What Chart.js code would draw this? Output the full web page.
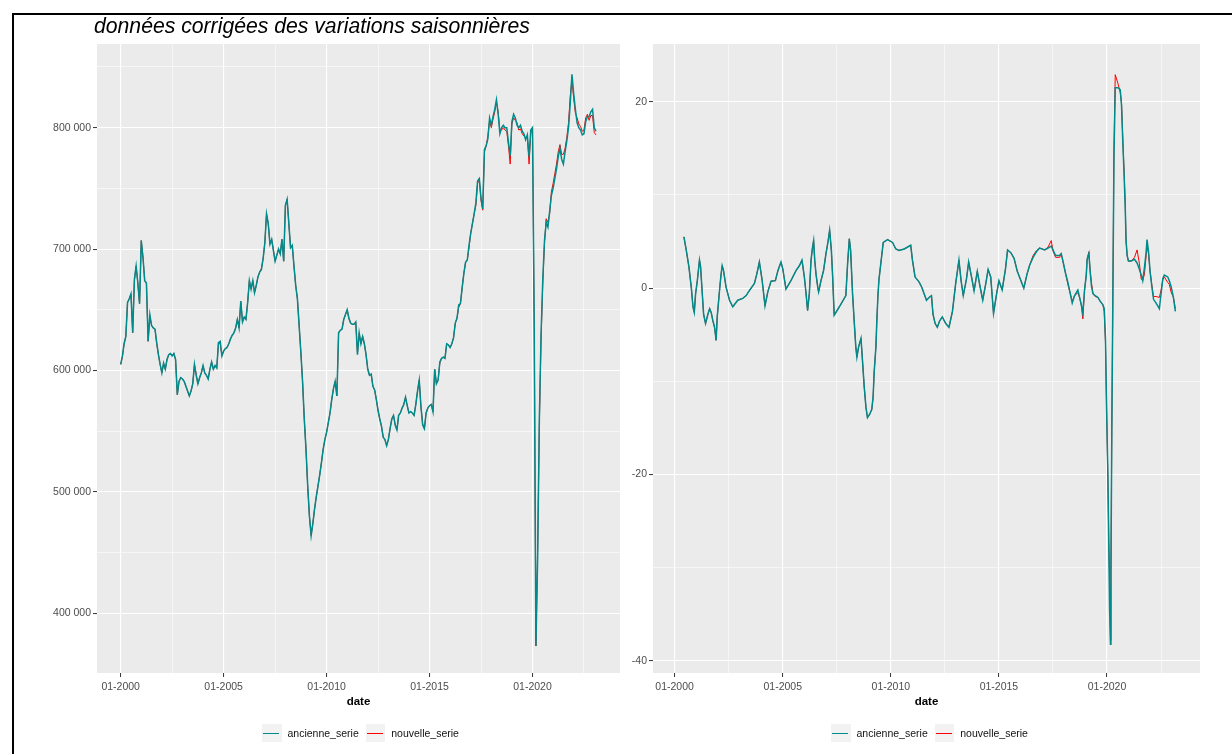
<!DOCTYPE html>
<html><head><meta charset="utf-8">
<script src="https://cdn.jsdelivr.net/npm/chart.js@4.4.1/dist/chart.umd.min.js"></script>
<style>
html,body{margin:0;padding:0;background:#fff;width:1232px;height:754px;overflow:hidden;font-family:"Liberation Sans",Arial,sans-serif;}
#frame{position:absolute;left:12px;top:13px;width:1240px;height:760px;border-top:2px solid #000;border-left:2px solid #000;box-sizing:border-box;}
#title{position:absolute;left:94px;top:14px;font-style:italic;font-size:21.2px;line-height:24px;color:#000;white-space:nowrap;}
canvas{position:absolute;top:0;}
#c1{left:0;} #c2{left:620px;}
.legend{position:absolute;top:724px;display:flex;align-items:center;font-size:10.5px;color:#111;}
.item{display:flex;align-items:center;margin-right:7px;}
.key{width:19.5px;height:18px;background:#F2F2F2;position:relative;margin-right:6px;}
.key i{position:absolute;left:1px;width:16px;top:8.5px;height:1.5px;}
</style></head>
<body>
<div id="frame"></div>
<canvas id="c1" width="632" height="754"></canvas>
<canvas id="c2" width="612" height="754"></canvas>
<div id="title">données corrigées des variations saisonnières</div>
<div class="legend" style="left:262px"><div class="item"><span class="key"><i style="background:#008B8B"></i></span>ancienne_serie</div><div class="item"><span class="key"><i style="background:#FF0000"></i></span>nouvelle_serie</div></div>
<div class="legend" style="left:831px"><div class="item"><span class="key"><i style="background:#008B8B"></i></span>ancienne_serie</div><div class="item"><span class="key"><i style="background:#FF0000"></i></span>nouvelle_serie</div></div>
<script>
// ---------- DATA ----------
const seriesNames = ['ancienne_serie', 'nouvelle_serie'];
const firstMonthYear = 2000; // monthly series, January 2000 onward (left panel, in thousands)
const ancienneNiveau = [
605,612,622,628,656,659,663,631,675,686,672,655,
707,693,674,672,624,646,637,635,634,623,613,605,
598,606,601,609,613,614,612,614,609,580,591,594,
593,591,587,583,579,583,589,605,596,589,594,598,
604,598,596,593,601,607,601,604,602,623,624,612,
616,618,619,622,626,629,631,635,642,635,657,640,
644,642,656,674,667,674,664,670,677,681,683,692,
705,729,721,704,708,699,690,695,700,696,708,690,
736,741,721,701,703,686,670,659,637,615,591,560,
535,505,480,464,474,486,496,505,514,524,535,543,
549,557,565,576,585,591,579,631,633,634,642,646,
650,643,639,638,638,640,613,631,622,628,622,613,
601,596,597,587,584,576,567,560,554,545,543,538,
543,552,560,563,555,551,563,565,569,572,578,571,
565,566,565,563,572,583,592,570,555,552,565,569,
571,572,566,601,589,592,607,610,611,610,622,621,
619,622,627,639,643,654,655,668,680,689,691,703,
713,721,729,738,756,758,742,733,782,785,791,808,
802,809,815,823,811,795,800,802,800,800,788,777,
805,811,808,802,800,802,797,795,790,794,776,798,
800,639,373,446,560,630,675,707,722,718,731,744,
750,758,766,776,783,774,770,780,789,800,820,844,
828,815,804,800,798,794,795,805,809,809,813,815,
800,797];
const nouvelleNiveau = [
605,611,622,628,656,659,663,631,674,686,672,655,
707,693,674,672,624,645,637,635,634,622,613,605,
598,606,601,609,613,614,612,614,609,580,591,594,
593,591,587,583,579,583,589,605,597,589,594,598,
604,598,596,593,601,607,601,604,602,623,622,612,
616,618,619,622,626,629,631,635,642,635,657,640,
644,642,656,674,667,674,664,670,677,681,684,692,
705,729,721,704,708,699,690,695,700,696,708,690,
736,741,721,701,703,686,670,659,637,615,591,560,
535,504,480,464,474,486,496,505,514,524,535,543,
549,557,565,576,585,591,579,631,633,634,642,646,
650,643,639,638,638,640,614,631,622,628,622,613,
601,596,597,587,584,576,567,560,554,545,543,538,
543,552,560,563,555,551,563,565,569,572,578,571,
565,566,565,563,572,583,592,570,556,552,565,569,
571,572,566,601,589,592,606,610,611,610,622,621,
619,622,627,639,643,652,655,668,680,689,691,701,
713,721,729,736,754,758,740,732,780,785,793,806,
800,807,813,821,813,797,798,800,798,797,785,770,
803,808,806,804,798,799,795,793,792,792,770,795,
800,637,373,453,556,626,672,705,725,722,729,747,
754,762,770,780,786,778,778,783,792,804,826,840,
824,812,808,803,801,797,798,808,811,806,810,810,
796,794];

// right panel: variation (%), dates as decimal years
const variationDates = [
2000.43,2000.54,2000.66,2000.77,2000.85,2000.91,2000.97,2001.05,2001.15,2001.2,2001.28,2001.34,2001.43,2001.54,2001.62,2001.69,2001.77,2001.85,2001.92,2001.97,
2002.03,2002.09,2002.15,2002.2,2002.26,2002.38,2002.54,2002.69,2002.92,2003.15,2003.31,2003.46,2003.69,2003.8,2003.92,2004.05,2004.18,2004.31,2004.46,2004.66,
2004.78,2004.92,2005.0,2005.15,2005.38,2005.62,2005.77,2005.89,2006.0,2006.08,2006.15,2006.23,2006.31,2006.38,2006.43,2006.48,2006.54,2006.62,2006.66,2006.77,
2006.89,2007.0,2007.09,2007.17,2007.25,2007.31,2007.38,2007.62,2007.92,2008.0,2008.08,2008.14,2008.23,2008.31,2008.38,2008.43,2008.51,2008.62,2008.69,2008.77,
2008.85,2008.92,2009.03,2009.12,2009.18,2009.23,2009.31,2009.35,2009.4,2009.45,2009.51,2009.57,2009.65,2009.85,2010.08,2010.23,2010.38,2010.62,2010.92,2011.0,
2011.12,2011.31,2011.43,2011.54,2011.65,2011.77,2011.88,2011.95,2012.05,2012.15,2012.26,2012.38,2012.54,2012.69,2012.85,2013.0,2013.15,2013.25,2013.35,2013.5,
2013.6,2013.75,2013.85,2014.0,2014.1,2014.25,2014.4,2014.5,2014.62,2014.75,2014.9,2015.0,2015.15,2015.3,2015.4,2015.55,2015.7,2015.85,2016.0,2016.15,
2016.3,2016.42,2016.58,2016.73,2016.88,2017.12,2017.27,2017.42,2017.5,2017.62,2017.81,2017.88,2017.96,2018.08,2018.19,2018.3,2018.39,2018.5,2018.65,2018.73,
2018.81,2018.88,2018.96,2019.04,2019.08,2019.16,2019.22,2019.28,2019.35,2019.45,2019.58,2019.68,2019.81,2019.87,2019.93,2019.98,2020.04,2020.08,2020.12,2020.16,
2020.18,2020.22,2020.27,2020.32,2020.38,2020.5,2020.61,2020.67,2020.73,2020.79,2020.84,2020.88,2020.93,2020.99,2021.12,2021.27,2021.39,2021.5,2021.58,2021.65,
2021.73,2021.81,2021.85,2021.92,2021.99,2022.07,2022.15,2022.27,2022.42,2022.5,2022.58,2022.65,2022.81,2022.88,2022.96,2023.07,2023.16];
const ancienneVariation = [
5.5,4.05,2.3,0.1,-2.0,-2.6,-0.6,0.8,3.0,2.3,-0.6,-2.8,-3.8,-2.8,-2.2,-2.6,-3.5,-4.2,-5.6,-3.1,
-1.5,0.1,1.5,2.4,1.9,0.1,-1.3,-2.0,-1.3,-1.1,-0.8,-0.25,0.5,1.5,2.8,0.8,-1.9,-0.4,0.75,0.8,
1.9,2.8,2.1,-0.1,0.8,1.9,2.4,3.0,1.2,-0.6,-2.4,-0.6,3.0,4.4,5.1,3.0,1.5,0.1,-0.4,0.8,
1.9,3.7,4.9,6.2,4.05,1.2,-2.9,-2.0,-0.8,2.6,5.3,4.05,-0.6,-3.7,-6.3,-7.4,-6.3,-5.4,-7.8,-10.6,
-12.8,-13.9,-13.5,-13.0,-11.7,-9.0,-6.3,-3.7,-1.0,0.9,2.1,3.3,4.9,5.2,4.9,4.2,4.05,4.2,4.6,3.0,
1.2,0.65,0.1,-0.6,-1.3,-1.0,-0.8,-2.8,-3.8,-4.2,-3.5,-3.1,-3.8,-4.2,-2.5,0.5,3.0,0.8,-0.8,1.0,
2.8,1.0,-0.3,1.8,0.5,-1.3,0.6,2.0,1.2,-2.7,-0.5,0.8,-0.2,2.0,4.1,3.8,3.2,1.8,0.9,0.0,
1.5,2.45,3.3,3.9,4.3,4.1,4.3,4.5,4.1,3.5,3.5,3.7,2.9,1.6,0.6,-0.6,-1.6,-0.8,-0.2,-1.0,
-1.8,-2.7,-0.2,1.4,3.1,3.7,1.8,0.2,-0.6,-0.8,-1.0,-1.4,-1.8,-2.2,-5.5,-12.9,-20.2,-27.4,-34.6,-38.2,
-30.7,-15.7,-0.8,14.1,21.5,21.5,21.3,19.6,15.7,12.1,8.8,5.1,3.5,2.9,2.9,3.1,2.7,2.0,1.4,0.8,
2.2,3.9,5.2,3.9,1.8,0.2,-1.2,-1.6,-2.2,-0.6,1.0,1.4,1.2,0.8,0.2,-1.0,-2.5];
const nouvelleVariation = [
5.5,4.05,2.3,0.1,-2.0,-2.6,-0.6,0.8,3.0,2.3,-0.6,-2.8,-3.8,-2.8,-2.2,-2.6,-3.5,-4.3,-5.6,-3.1,
-1.5,0.1,1.5,2.4,1.9,0.1,-1.3,-2.0,-1.3,-1.1,-0.8,-0.25,0.5,1.5,2.8,0.8,-1.9,-0.4,0.75,0.8,
1.9,2.8,2.1,-0.1,0.8,1.9,2.4,3.0,1.2,-0.6,-2.4,-0.6,3.0,4.4,5.1,3.0,1.5,0.1,-0.4,0.8,
1.9,3.7,4.9,6.2,4.05,1.2,-2.9,-2.0,-0.8,2.6,5.3,4.05,-0.6,-3.7,-6.3,-7.4,-6.3,-5.4,-7.8,-10.6,
-12.8,-13.9,-13.5,-13.0,-11.7,-9.0,-6.3,-3.7,-1.0,0.9,2.1,3.3,4.9,5.2,4.9,4.2,4.05,4.2,4.6,3.0,
1.2,0.65,0.1,-0.6,-1.3,-1.0,-0.8,-2.8,-3.8,-4.2,-3.5,-3.1,-3.8,-4.2,-2.5,0.5,3.0,0.8,-0.8,1.0,
2.8,1.0,-0.3,1.8,0.5,-1.3,0.6,2.0,1.2,-2.7,-0.5,0.8,-0.2,2.0,4.1,3.8,3.2,1.8,0.9,0.0,
1.5,2.45,3.5,4.0,4.3,4.1,4.4,5.1,4.0,3.3,3.3,3.7,2.9,1.6,0.4,-0.6,-1.4,-0.8,-0.5,-1.0,
-1.8,-3.3,-0.2,1.4,3.1,3.9,1.8,0.6,-0.6,-0.9,-1.0,-1.4,-1.8,-2.5,-6.0,-13.2,-20.5,-27.0,-31.0,-37.8,
-31.0,-15.2,-0.8,14.6,22.9,22.0,21.0,19.9,15.9,12.5,9.2,5.1,3.5,2.9,2.9,3.3,4.1,2.6,1.0,0.8,
1.5,3.5,4.5,3.7,1.8,0.4,-0.9,-0.9,-1.0,-0.2,0.9,1.2,0.6,0.4,-0.4,-1.0,-2.2];

const xTickYears = [2000,2002.5,2005,2007.5,2010,2012.5,2015,2017.5,2020,2022.5];
const yTicksNiveau = [400,450,500,550,600,650,700,750,800,850];
const yTicksVariation = [-40,-30,-20,-10,0,10,20];

// ---------- CHART HELPERS ----------
const FONT = '"Liberation Sans", Arial, sans-serif';
const panelBg = { id:'panelBg', beforeDraw(chart){ const {ctx, chartArea:a} = chart; ctx.save(); ctx.fillStyle='#EBEBEB'; ctx.fillRect(a.left, a.top, a.right-a.left, a.bottom-a.top); ctx.restore(); } };
const isMajorX = v => Math.abs(v % 5) < 1e-9;

function monthPoints(vals){ return vals.map((v,i)=>({x: firstMonthYear + i/12, y: v})); }
function datePoints(dates, vals){ return dates.map((d,i)=>({x: d, y: vals[i]})); }

function makeChart(id, cfg){
  const tickFont = {family: FONT, size: 10.5};
  return new Chart(document.getElementById(id), {
    type:'line',
    data:{ datasets:[
      {label: seriesNames[0], data: cfg.a, borderColor:'#008B8B', borderWidth:1.5, pointRadius:0, tension:0, fill:false},
      {label: seriesNames[1], data: cfg.n, borderColor:'#FF0000', borderWidth:1.0, pointRadius:0, tension:0, fill:false}
    ]},
    options:{
      responsive:false, animation:false, devicePixelRatio:1,
      layout:{ padding: cfg.padding },
      plugins:{ legend:{display:false}, tooltip:{enabled:false}, title:{display:false} },
      scales:{
        x:{
          type:'linear', min: cfg.xmin, max: cfg.xmax, bounds:'data',
          afterBuildTicks: s => { s.ticks = xTickYears.map(v=>({value:v})); },
          afterFit: s => { s.height = 36; },
          border:{display:false},
          grid:{ color:'#FFFFFF', lineWidth: c => (c.tick && isMajorX(c.tick.value)) ? 1.1 : 0.55,
                 drawTicks:true, tickLength:4, tickWidth:1,
                 tickColor: c => (c.tick && isMajorX(c.tick.value)) ? '#333333' : 'rgba(0,0,0,0)' },
          ticks:{ autoSkip:false, maxRotation:0, minRotation:0, padding:4, color:'#4D4D4D', font: tickFont,
                  callback: v => isMajorX(v) ? '01-' + v : '' },
          title:{ display:true, text:'date', color:'#000', font:{family: FONT, size:11.5, weight:'bold'}, padding:{top:0, bottom:0} }
        },
        y:{
          type:'linear', min: cfg.ymin, max: cfg.ymax, bounds:'data',
          afterBuildTicks: s => { s.ticks = cfg.yticks.map(v=>({value:v})); },
          afterFit: s => { s.width = cfg.yw; },
          border:{display:false},
          grid:{ color:'#FFFFFF', lineWidth: c => (c.tick && cfg.isMajorY(c.tick.value)) ? 1.1 : 0.55,
                 drawTicks:true, tickLength:4, tickWidth:1,
                 tickColor: c => (c.tick && cfg.isMajorY(c.tick.value)) ? '#333333' : 'rgba(0,0,0,0)' },
          ticks:{ autoSkip:false, padding:2, color:'#4D4D4D', font: tickFont,
                  callback: v => cfg.isMajorY(v) ? cfg.fmt(v) : '' }
        }
      }
    },
    plugins:[panelBg]
  });
}

makeChart('c1', {
  a: monthPoints(ancienneNiveau), n: monthPoints(nouvelleNiveau),
  xmin:1998.85, xmax:2024.25, ymin:350.8, ymax:868.9,
  yticks: yTicksNiveau, isMajorY: v => v % 100 === 0, fmt: v => v + ' 000',
  yw:60, padding:{left:37, right:12, top:44, bottom:45}
});
makeChart('c2', {
  a: datePoints(variationDates, ancienneVariation), n: datePoints(variationDates, nouvelleVariation),
  xmin:1999.0, xmax:2024.30, ymin:-41.29, ymax:26.19,
  yticks: yTicksVariation, isMajorY: v => v % 20 === 0, fmt: v => String(v),
  yw:25, padding:{left:8, right:32, top:44, bottom:45}
});
</script>
</body></html>
